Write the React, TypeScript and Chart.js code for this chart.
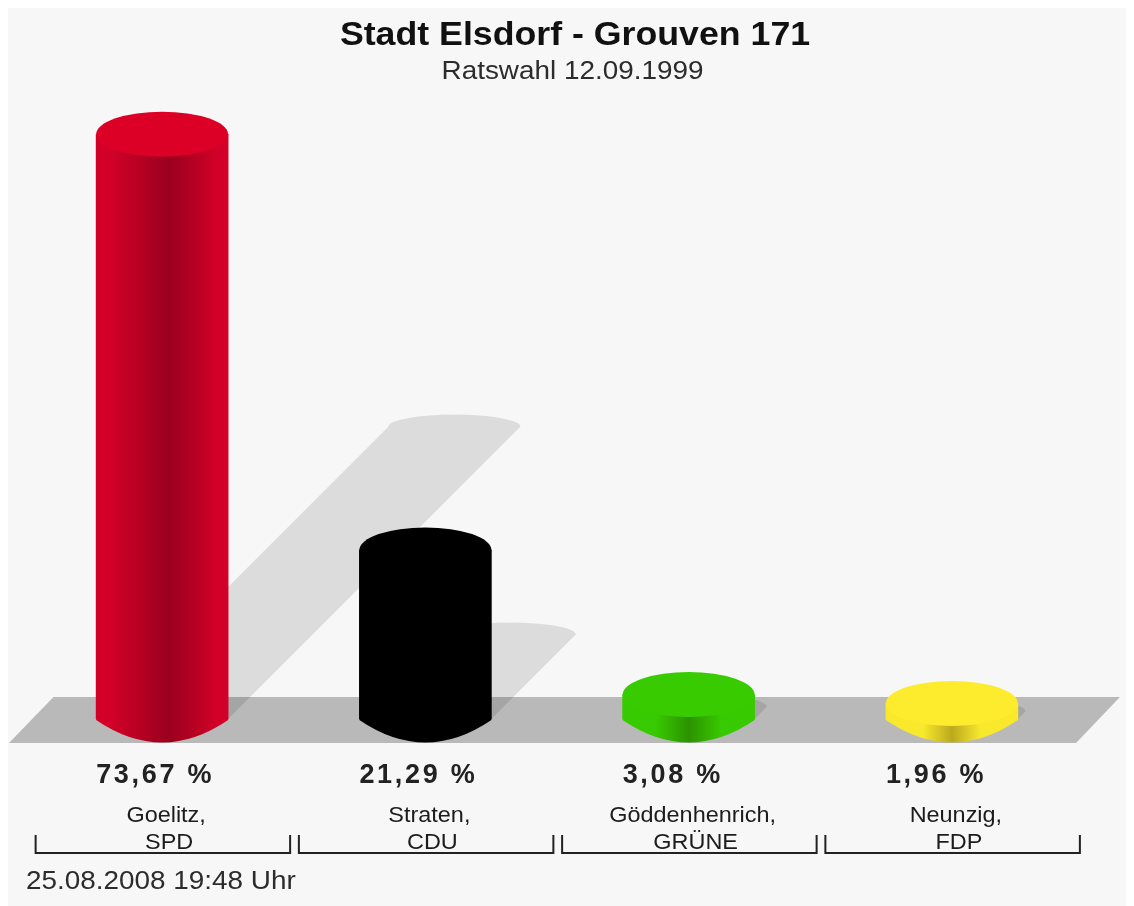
import React, { useEffect, useRef } from "react";
import { Chart, registerables } from "chart.js";

Chart.register(...registerables);

const titleText = "Stadt Elsdorf - Grouven 171";
const subtitleText = "Ratswahl 12.09.1999";
const footerText = "25.08.2008 19:48 Uhr";
const candidates = ["Goelitz,", "Straten,", "Göddenhenrich,", "Neunzig,"];
const parties = ["SPD", "CDU", "GRÜNE", "FDP"];
const shares = [73.67, 21.29, 3.08, 1.96];
const shareLabels = ["73,67 %", "21,29 %", "3,08 %", "1,96 %"];
const edgeColors = ["#d20028", "#000000", "#38ca00", "#f9e92c"];
const coreColors = ["#9a001e", "#000000", "#2c9200", "#bba91e"];
const capColors = ["#dc0027", "#000000", "#38cc00", "#fdec2e"];
const coreStarts = [0.12, 0.3, 0.25, 0.28];
const coreMiddles = [0.55, 0.5, 0.5, 0.5];
const coreEnds = [0.92, 0.7, 0.75, 0.72];

const FONT = '"Liberation Sans", Arial, sans-serif';
const BG = "#f7f7f7";
const HALF_W = 66;
const RY = 22.5;
const SHADOW_RY = 12;

const sideGradient = (ctx: CanvasRenderingContext2D, cx: number, i: number) => {
  const g = ctx.createLinearGradient(cx - HALF_W, 0, cx + HALF_W, 0);
  g.addColorStop(0, edgeColors[i]);
  g.addColorStop(coreStarts[i], edgeColors[i]);
  g.addColorStop(coreMiddles[i], coreColors[i]);
  g.addColorStop(coreEnds[i], edgeColors[i]);
  g.addColorStop(1, edgeColors[i]);
  return g;
};

const text = (
  ctx: CanvasRenderingContext2D,
  s: string,
  x: number,
  y: number,
  font: string,
  color: string,
  align: CanvasTextAlign,
  stretch = 1,
  spacing = "0px"
) => {
  ctx.save();
  ctx.translate(x, y);
  ctx.scale(stretch, 1);
  ctx.font = font;
  ctx.fillStyle = color;
  ctx.textAlign = align;
  ctx.textBaseline = "middle";
  (ctx as any).letterSpacing = spacing;
  ctx.fillText(s, 0, 0);
  ctx.restore();
};

const groundPlugin = {
  id: "ground",
  beforeDatasetsDraw(chart: any) {
    const { ctx, scales } = chart;
    const y0 = scales.y.getPixelForValue(0);
    ctx.save();
    // floor
    ctx.fillStyle = "#b9b9b9";
    ctx.beginPath();
    ctx.moveTo(45.5, y0 - 22);
    ctx.lineTo(1112, y0 - 22);
    ctx.lineTo(1068, y0 + 24);
    ctx.lineTo(1, y0 + 24);
    ctx.closePath();
    ctx.fill();
    // cast shadows
    ctx.fillStyle = "rgba(0,0,0,0.105)";
    shares.forEach((v, i) => {
      const cx = scales.x.getPixelForValue(i);
      const t = (y0 - scales.y.getPixelForValue(v)) * 0.5;
      ctx.beginPath();
      ctx.moveTo(cx - HALF_W, y0);
      ctx.lineTo(cx - HALF_W + t, y0 - t);
      ctx.ellipse(cx + t, y0 - t, HALF_W, SHADOW_RY, 0, Math.PI, 2 * Math.PI);
      ctx.lineTo(cx + HALF_W, y0);
      ctx.closePath();
      ctx.fill();
    });
    ctx.restore();
  },
};

const capsPlugin = {
  id: "caps",
  afterDatasetsDraw(chart: any) {
    const { ctx, scales } = chart;
    const y0 = scales.y.getPixelForValue(0);
    ctx.save();
    shares.forEach((v, i) => {
      const cx = scales.x.getPixelForValue(i);
      const yt = scales.y.getPixelForValue(v);
      ctx.fillStyle = sideGradient(ctx, cx, i);
      ctx.beginPath();
      ctx.moveTo(cx - HALF_W, y0);
      ctx.lineTo(cx - HALF_W, y0 + 1);
      ctx.quadraticCurveTo(cx, y0 + 1 + RY * 2, cx + HALF_W, y0 + 1);
      ctx.lineTo(cx + HALF_W, y0);
      ctx.closePath();
      ctx.fill();
      ctx.fillStyle = capColors[i];
      ctx.beginPath();
      ctx.ellipse(cx, yt, HALF_W, RY, 0, 0, 2 * Math.PI);
      ctx.fill();
    });
    ctx.restore();
  },
};

const textPlugin = {
  id: "texts",
  afterDraw(chart: any) {
    const { ctx, scales } = chart;
    ctx.save();
    text(ctx, titleText, 567, 28, `bold 33px ${FONT}`, "#111", "center", 1.082);
    text(ctx, subtitleText, 564.5, 64, `25px ${FONT}`, "#2c2c2c", "center", 1.115);
    candidates.forEach((name, i) => {
      const cx = scales.x.getPixelForValue(i);
      text(ctx, shareLabels[i], cx - HALF_W, 767.5, `bold 27px ${FONT}`, "#222", "left", 1, "2.7px");
      text(ctx, name, cx + 4, 807.5, `22px ${FONT}`, "#1c1c1c", "center", 1.065);
      text(ctx, parties[i], cx + 7, 834.5, `22px ${FONT}`, "#1c1c1c", "center", 1.065);
      const x1 = cx - 126.5;
      const x2 = cx + 128;
      ctx.strokeStyle = "#222";
      ctx.lineWidth = 2;
      ctx.beginPath();
      ctx.moveTo(x1, 827);
      ctx.lineTo(x1, 845);
      ctx.lineTo(x2, 845);
      ctx.lineTo(x2, 827);
      ctx.stroke();
    });
    text(ctx, footerText, 18, 874.5, `25px ${FONT}`, "#2c2c2c", "left", 1.115);
    ctx.restore();
  },
};

export default function App() {
  const ref = useRef<HTMLCanvasElement>(null);
  useEffect(() => {
    document.documentElement.style.overflow = "hidden";
    const chart = new Chart(ref.current as HTMLCanvasElement, {
      type: "bar",
      data: {
        labels: candidates.map((c, i) => [c, parties[i]]),
        datasets: [
          {
            data: shares,
            barThickness: HALF_W * 2,
            borderWidth: 0,
            backgroundColor: (c: any) => {
              const px = c.chart.scales?.x?.getPixelForValue(c.dataIndex);
              return Number.isFinite(px) ? sideGradient(c.chart.ctx, px, c.dataIndex) : edgeColors[c.dataIndex];
            },
          },
        ],
      },
      options: {
        responsive: false,
        animation: false,
        layout: { padding: { left: 22.5, right: 50.5, top: 76, bottom: 187 } },
        plugins: { legend: { display: false }, title: { display: false }, tooltip: { enabled: false } },
        scales: {
          x: { display: false },
          y: { display: false, min: 0, max: 80 },
        },
      } as any,
      plugins: [
        {
          id: "bg",
          beforeDraw(c: any) {
            c.ctx.save();
            c.ctx.fillStyle = BG;
            c.ctx.fillRect(0, 0, c.width, c.height);
            c.ctx.restore();
          },
        },
        groundPlugin,
        capsPlugin,
        textPlugin,
      ],
    });
    return () => chart.destroy();
  }, []);
  return <canvas ref={ref} width={1126} height={898} style={{ display: "block", filter: "blur(0.7px)" }} />;
}
